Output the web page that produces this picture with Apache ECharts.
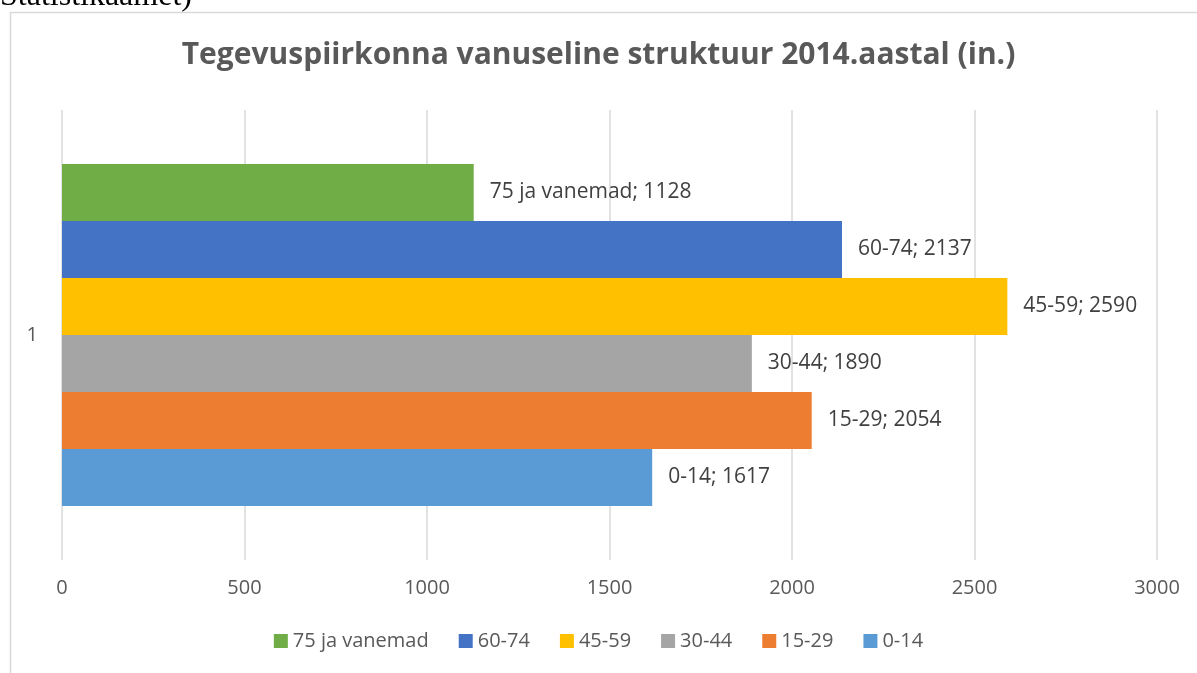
<!DOCTYPE html>
<html>
<head>
<meta charset="utf-8">
<script src="https://cdn.jsdelivr.net/npm/echarts@6/dist/echarts.min.js"></script>
<style>
  html, body { margin: 0; padding: 0; background: #fff; }
  #chart { width: 1197px; height: 673px; }
</style>
</head>
<body>
<div id="chart"></div>
<script>
// andmed (ülemisest ribast alumiseni)
const categories = ['1'];
const groups = ['75 ja vanemad', '60-74', '45-59', '30-44', '15-29', '0-14'];
const values = [1128, 2137, 2590, 1890, 2054, 1617];
const colors = ['#70ad47', '#4472c4', '#ffc000', '#a5a5a5', '#ed7d31', '#5b9bd5'];
const xTicks = [0, 500, 1000, 1500, 2000, 2500, 3000];

const font = '"Open Sans", sans-serif';
const chart = echarts.init(document.getElementById('chart'));

const option = {
  backgroundColor: '#fff',
  animation: false,
  title: {
    text: 'Tegevuspiirkonna vanuseline struktuur 2014.aastal (in.)',
    left: 'center',
    top: 35,
    textStyle: { fontFamily: font, fontSize: 30, fontWeight: 'bold', color: '#595959' }
  },
  graphic: [
    {
      type: 'rect',
      shape: { x: 10.5, y: 12.5, width: 1200, height: 700 },
      style: { fill: 'none', stroke: '#d9d9d9', lineWidth: 1.5 },
      silent: true
    },
    {
      type: 'text',
      left: 0,
      top: -19,
      style: { text: 'Statistikaamet)', font: '32px "Liberation Serif", serif', fill: '#000' },
      silent: true
    }
  ],
  legend: {
    data: groups,
    bottom: 17,
    left: 'center',
    itemWidth: 14,
    itemHeight: 14,
    itemGap: 30,
    icon: 'rect',
    textStyle: { fontFamily: font, fontSize: 20, color: '#595959' }
  },
  grid: { left: 62, right: 40, top: 110, bottom: 113 },
  xAxis: {
    type: 'value',
    min: 0,
    max: 3000,
    interval: 500,
    axisLine: { show: false },
    axisTick: { show: false },
    splitLine: { lineStyle: { color: '#d9d9d9', width: 1.5 } },
    axisLabel: {
      margin: 18,
      fontFamily: font,
      fontSize: 20,
      color: '#595959',
      formatter: v => xTicks.includes(v) ? String(v) : ''
    }
  },
  yAxis: {
    type: 'category',
    data: categories,
    axisLine: { show: false },
    axisTick: { show: false },
    axisLabel: { margin: 24, fontFamily: font, fontSize: 20, color: '#595959' }
  },
  series: groups.map((g, i) => ({
    name: g,
    type: 'bar',
    data: [values[i]],
    barGap: '0%',
    barCategoryGap: '24%',
    itemStyle: { color: colors[i] },
    label: {
      show: true,
      position: 'right',
      distance: 16,
      fontFamily: font,
      fontSize: 21,
      color: '#404040',
      formatter: p => g + '; ' + p.value
    },
    z: 3
  }))
};

chart.setOption(option);
</script>
</body>
</html>
